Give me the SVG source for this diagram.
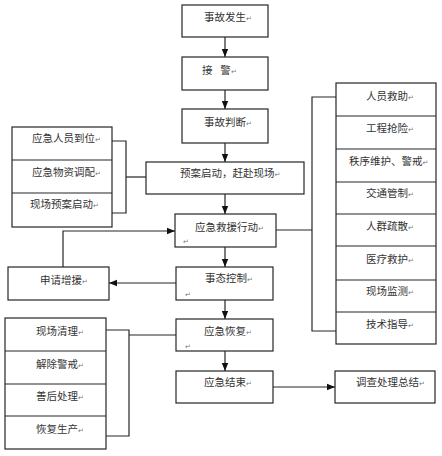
<svg xmlns="http://www.w3.org/2000/svg" width="442" height="456" viewBox="0 0 442 456">
<style>
.b{fill:#fff;stroke:#262626;stroke-width:1.2}
.d{stroke:#262626;stroke-width:1.2;fill:none}
.c{stroke:#262626;stroke-width:1.2;fill:none}
text{font-family:"Liberation Serif","Noto Sans CJK SC",serif;font-size:10.5px;fill:#333}
.p{font-family:"DejaVu Sans",sans-serif;font-size:7px;fill:#777}
</style>
<defs>
<marker id="ah" markerUnits="userSpaceOnUse" markerWidth="8" markerHeight="8" viewBox="0 0 8 8" refX="8" refY="4" orient="auto">
<path d="M0,0.8 L8,4 L0,7.2 Z" fill="#111"/>
</marker>
</defs>
<rect width="442" height="456" fill="#fff"/>
<g id="connectors">
<line class="c" x1="225" y1="37" x2="225" y2="57" marker-end="url(#ah)"/>
<line class="c" x1="225" y1="90" x2="225" y2="109" marker-end="url(#ah)"/>
<line class="c" x1="225" y1="143" x2="225" y2="162" marker-end="url(#ah)"/>
<line class="c" x1="225" y1="194" x2="225" y2="214" marker-end="url(#ah)"/>
<line class="c" x1="225" y1="247" x2="225" y2="267" marker-end="url(#ah)"/>
<line class="c" x1="225" y1="300" x2="225" y2="319" marker-end="url(#ah)"/>
<line class="c" x1="225" y1="351" x2="225" y2="371" marker-end="url(#ah)"/>
<line class="c" x1="273" y1="387" x2="335" y2="387" marker-end="url(#ah)"/>
<line class="c" x1="176" y1="283" x2="109" y2="283" marker-end="url(#ah)"/>
<polyline class="c" points="63,267 63,231 175,231" marker-end="url(#ah)"/>
<polyline class="c" points="112,141 126,141 126,213 112,213"/>
<line class="c" x1="126" y1="177" x2="146" y2="177"/>
<polyline class="c" points="106,330 129,330 129,436 106,436"/>
<line class="c" x1="129" y1="335" x2="176" y2="335"/>
<polyline class="c" points="336,97 312,97 312,331 336,331"/>
<line class="c" x1="276" y1="230" x2="312" y2="230"/>
</g>
<g id="n1"><rect class="b" x="182" y="5" width="86" height="32"/><text x="204" y="21">事故发生<tspan class="p">↵</tspan></text></g>
<g id="n2"><rect class="b" x="182" y="57" width="86" height="33"/><text x="202" y="74" xml:space="preserve">接   警<tspan class="p">↵</tspan></text></g>
<g id="n3"><rect class="b" x="182" y="109" width="86" height="34"/><text x="204" y="126">事故判断<tspan class="p">↵</tspan></text></g>
<g id="n4"><rect class="b" x="146" y="162" width="158" height="32"/><text x="180" y="177">预案启动，赶赴现场<tspan class="p">↵</tspan></text></g>
<g id="n5"><rect class="b" x="175" y="214" width="101" height="33"/><text x="195" y="231">应急救援行动<tspan class="p">↵</tspan></text><text class="p" x="183" y="244">↵</text></g>
<g id="n6"><rect class="b" x="176" y="267" width="97" height="33"/><text x="205" y="282">事态控制<tspan class="p">↵</tspan></text><text class="p" x="185" y="297">↵</text></g>
<g id="n7"><rect class="b" x="176" y="319" width="97" height="32"/><text x="204" y="335">应急恢复<tspan class="p">↵</tspan></text><text class="p" x="185" y="349">↵</text></g>
<g id="n8"><rect class="b" x="176" y="371" width="97" height="32"/><text x="204" y="386">应急结束<tspan class="p">↵</tspan></text></g>
<g id="n9"><rect class="b" x="335" y="371" width="100" height="32"/><text x="356" y="386">调查处理总结<tspan class="p">↵</tspan></text></g>
<g id="n10"><rect class="b" x="8" y="267" width="101" height="33"/><text x="40" y="284">申请增援<tspan class="p">↵</tspan></text></g>
<g id="g1">
<rect class="b" x="12" y="127" width="100" height="100"/>
<line class="d" x1="12" y1="160" x2="112" y2="160"/>
<line class="d" x1="12" y1="193" x2="112" y2="193"/>
<text x="32" y="142">应急人员到位<tspan class="p">↵</tspan></text>
<text x="32" y="176">应急物资调配<tspan class="p">↵</tspan></text>
<text x="30" y="208">现场预案启动<tspan class="p">↵</tspan></text>
</g>
<g id="g2">
<rect class="b" x="5" y="318" width="101" height="131"/>
<line class="d" x1="5" y1="351" x2="106" y2="351"/>
<line class="d" x1="5" y1="384" x2="106" y2="384"/>
<line class="d" x1="5" y1="416" x2="106" y2="416"/>
<text x="36" y="335">现场清理<tspan class="p">↵</tspan></text>
<text x="36" y="368">解除警戒<tspan class="p">↵</tspan></text>
<text x="36" y="400">善后处理<tspan class="p">↵</tspan></text>
<text x="36" y="433">恢复生产<tspan class="p">↵</tspan></text>
</g>
<g id="g3">
<rect class="b" x="336" y="83" width="100" height="261"/>
<line class="d" x1="336" y1="116" x2="436" y2="116"/>
<line class="d" x1="336" y1="149" x2="436" y2="149"/>
<line class="d" x1="336" y1="182" x2="436" y2="182"/>
<line class="d" x1="336" y1="214" x2="436" y2="214"/>
<line class="d" x1="336" y1="246" x2="436" y2="246"/>
<line class="d" x1="336" y1="280" x2="436" y2="280"/>
<line class="d" x1="336" y1="312" x2="436" y2="312"/>
<text x="366" y="100">人员救助<tspan class="p">↵</tspan></text>
<text x="366" y="132">工程抢险<tspan class="p">↵</tspan></text>
<text x="349" y="165">秩序维护、警戒<tspan class="p">↵</tspan></text>
<text x="366" y="197">交通管制<tspan class="p">↵</tspan></text>
<text x="366" y="230">人群疏散<tspan class="p">↵</tspan></text>
<text x="366" y="263">医疗救护<tspan class="p">↵</tspan></text>
<text x="366" y="295">现场监测<tspan class="p">↵</tspan></text>
<text x="366" y="328">技术指导<tspan class="p">↵</tspan></text>
</g>
</svg>
